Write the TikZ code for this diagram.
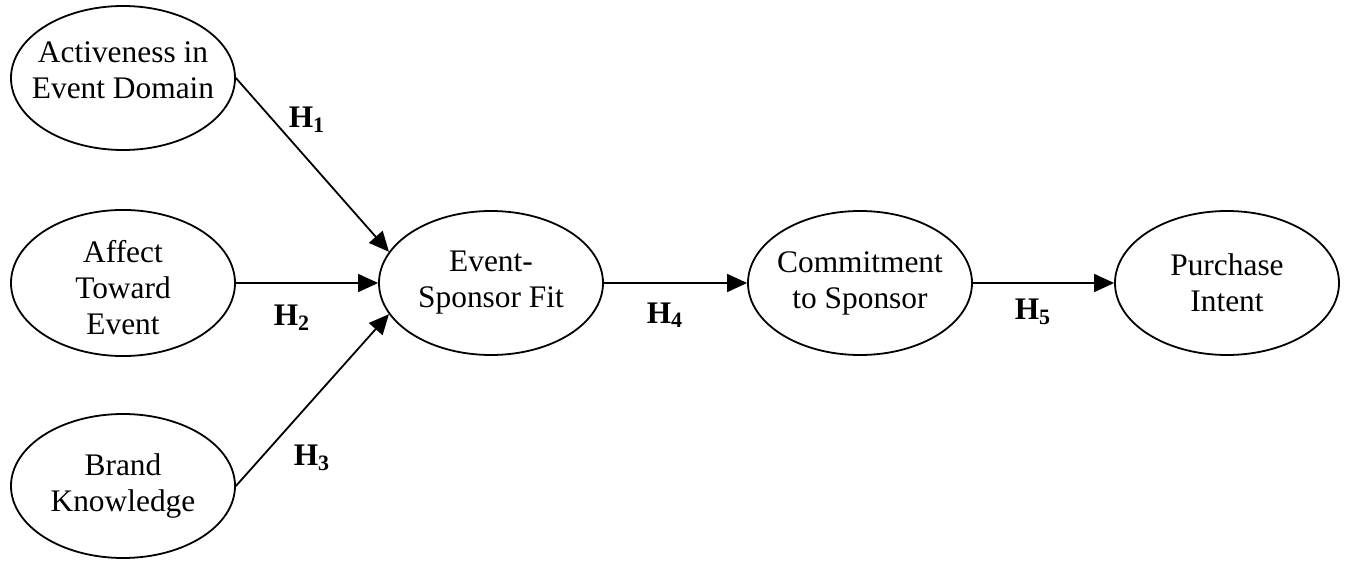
\documentclass[tikz,border=0pt]{standalone}
\usepackage{fontspec}
\setmainfont{Liberation Serif}
\usepackage{tikz}
\usetikzlibrary{arrows.meta,shapes.geometric}
\newcommand{\Hyp}[1]{H\textsubscript{#1}}
\tikzset{
  construct/.style={ellipse, draw, line width=0.9pt,
    minimum width=112pt, minimum height=72pt,
    inner xsep=-12pt, inner ysep=0pt, align=center,
    font=\fontsize{15.7}{18}\selectfont},
  link/.style={line width=0.9pt,
    -{Triangle[length=10pt, width=9pt]}},
  hyp/.style={font=\fontsize{15.7}{18}\selectfont\bfseries}
}
\begin{document}
\begin{tikzpicture}[x=0.5pt, y=-0.5pt]
\useasboundingbox (0, 0) rectangle (1350, 561);
% antecedents
\node [construct, text depth=8pt] (act) at (123, 78) {Activeness in\\Event Domain};
\node [construct, text height=51.5pt] (aff) at (123, 283) {Affect\\Toward\\Event};
\node [construct] (brand) at (123, 486) {Brand\\Knowledge};
% mediators and outcome
\node [construct] (fit) at (491, 283) {Event-\\Sponsor Fit};
\node [construct] (comm) at (860, 283) {Commitment\\to Sponsor};
\node [construct] (purch) at (1227, 283) {Purchase\\Intent};
% paths
\draw [link] (act.east) -- (fit.163);
\draw [link] (aff.east) -- (fit.west);
\draw [link] (brand.east) -- (fit.197);
\draw [link] (fit.east) -- (comm.west);
\draw [link] (comm.east) -- (purch.west);
% hypotheses
\node [hyp] (h1) at (307, 120) {\Hyp{1}};
\node [hyp] (h2) at (292, 318) {\Hyp{2}};
\node [hyp] (h3) at (312, 458) {\Hyp{3}};
\node [hyp] (h4) at (665, 315) {\Hyp{4}};
\node [hyp] (h5) at (1033, 312) {\Hyp{5}};
\end{tikzpicture}
\end{document}
